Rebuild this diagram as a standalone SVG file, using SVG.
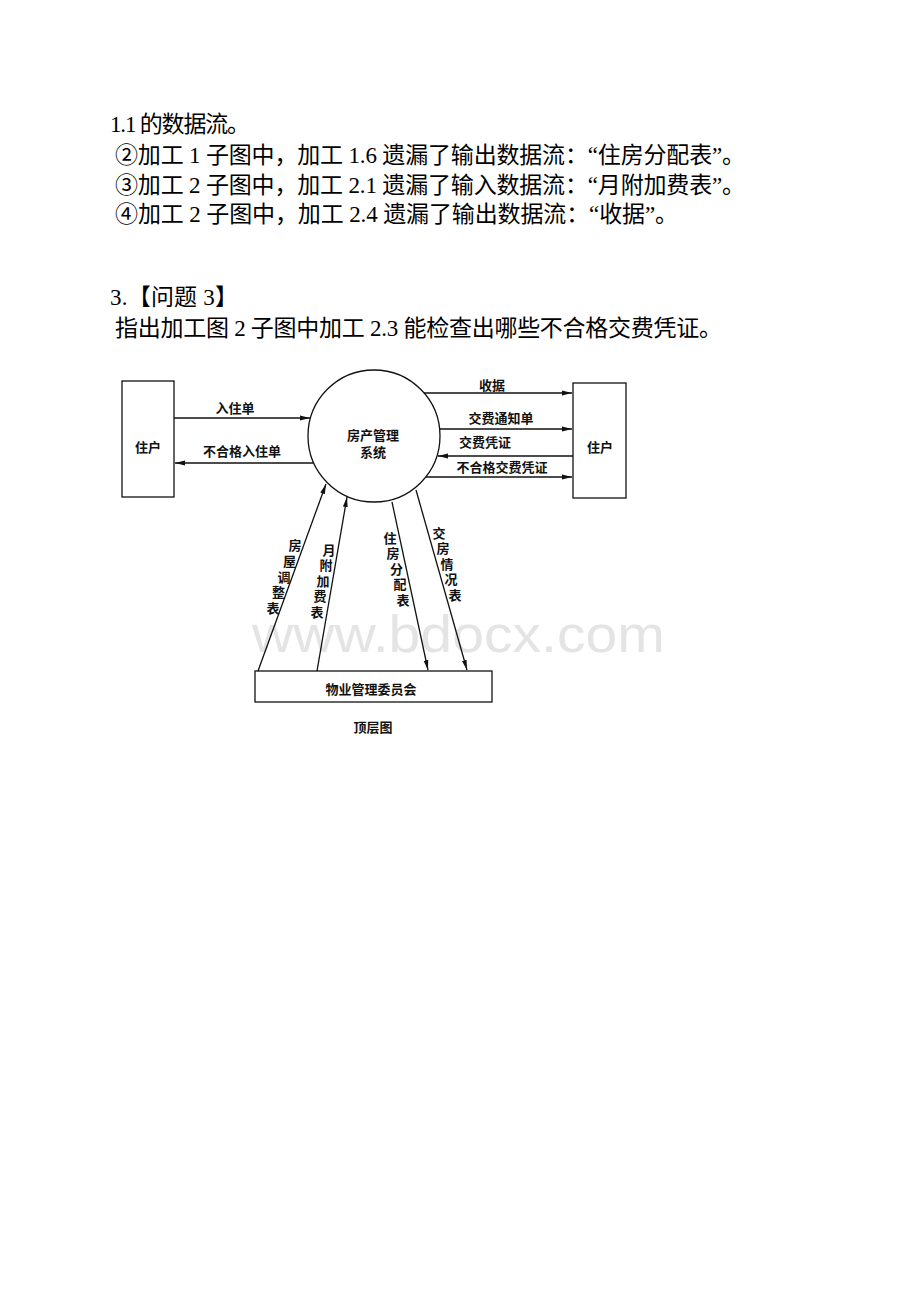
<svg xmlns="http://www.w3.org/2000/svg" width="920" height="1302" viewBox="0 0 920 1302">
<defs>
<marker id="ah" viewBox="0 0 10 6" refX="10" refY="3" markerWidth="10" markerHeight="6" markerUnits="userSpaceOnUse" orient="auto">
<path d="M0,0.6 L10,3 L0,5.4 Z" fill="#111"/>
</marker>
<style>
.t{font-family:"Liberation Serif","Noto Sans CJK SC",serif;font-size:23px;fill:#000}
.l{font-family:"Noto Sans CJK SC",sans-serif;font-size:13px;font-weight:bold;fill:#111;text-anchor:middle}
.v{font-family:"Noto Sans CJK SC",sans-serif;font-size:13px;font-weight:bold;fill:#111;writing-mode:vertical-rl;text-anchor:start}
.s{fill:none;stroke:#111;stroke-width:1.3}
.c{fill:none;stroke:#111;stroke-width:1.3;marker-end:url(#ah)}
.wm{font-family:"Liberation Sans",Arial,sans-serif;font-size:52px;fill:#e4e4e4}
</style>
</defs>
<rect width="920" height="1302" fill="#fff"/>
<g id="text">
<text class="t" x="110" y="132" textLength="140" lengthAdjust="spacing">1.1 的数据流。</text>
<text class="t" x="115" y="163" textLength="630" lengthAdjust="spacing">②加工 1 子图中，加工 1.6 遗漏了输出数据流：“住房分配表”。</text>
<text class="t" x="115" y="193" textLength="630" lengthAdjust="spacing">③加工 2 子图中，加工 2.1 遗漏了输入数据流：“月附加费表”。</text>
<text class="t" x="115" y="222" textLength="563" lengthAdjust="spacing">④加工 2 子图中，加工 2.4 遗漏了输出数据流：“收据”。</text>
<text class="t" x="110" y="305" textLength="128" lengthAdjust="spacing">3.【问题 3】</text>
<text class="t" x="115" y="336" textLength="607" lengthAdjust="spacing">指出加工图 2 子图中加工 2.3 能检查出哪些不合格交费凭证。</text>
</g>
<text class="wm" x="252" y="652" textLength="413" lengthAdjust="spacingAndGlyphs">www.bdocx.com</text>
<g id="connectors">
<line class="c" x1="174" y1="418" x2="310" y2="418"/>
<line class="c" x1="313" y1="463" x2="175" y2="463"/>
<line class="c" x1="424" y1="393" x2="572" y2="393"/>
<line class="c" x1="439" y1="429" x2="572" y2="429"/>
<line class="c" x1="573" y1="456" x2="438" y2="456"/>
<line class="c" x1="426" y1="477" x2="572" y2="477"/>
<line class="c" x1="258" y1="671" x2="326" y2="484"/>
<line class="c" x1="317" y1="671" x2="347" y2="497"/>
<line class="c" x1="392" y1="502" x2="428" y2="670"/>
<line class="c" x1="416" y1="490" x2="467" y2="670"/>
</g>
<g id="labels">
<text class="l" x="235" y="413">入住单</text>
<text class="l" x="242" y="456">不合格入住单</text>
<text class="l" x="492" y="390">收据</text>
<text class="l" x="501" y="423">交费通知单</text>
<text class="l" x="485" y="447">交费凭证</text>
<text class="l" x="502" y="472">不合格交费凭证</text>
<text class="v"><tspan x="295" y="538.5">房</tspan><tspan x="289.5" y="554.5">屋</tspan><tspan x="284" y="570.5">调</tspan><tspan x="278.5" y="585.5">整</tspan><tspan x="273" y="601.5">表</tspan></text>
<text class="v"><tspan x="329" y="543.5">月</tspan><tspan x="326" y="558.5">附</tspan><tspan x="323" y="574.5">加</tspan><tspan x="320" y="589.5">费</tspan><tspan x="317" y="605.5">表</tspan></text>
<text class="v"><tspan x="390" y="531.5">住</tspan><tspan x="393" y="546.5">房</tspan><tspan x="396.5" y="562.5">分</tspan><tspan x="400" y="577.5">配</tspan><tspan x="403" y="593.5">表</tspan></text>
<text class="v"><tspan x="439" y="526.5">交</tspan><tspan x="443" y="541.5">房</tspan><tspan x="447" y="557.5">情</tspan><tspan x="451" y="572.5">况</tspan><tspan x="455" y="588.5">表</tspan></text>
</g>
<g id="node-resident-left">
<rect class="s" x="122" y="381" width="52" height="116"/>
<text class="l" x="148" y="452">住户</text>
</g>
<g id="node-system">
<circle class="s" cx="374" cy="436" r="66"/>
<text class="l" x="373" y="440">房产管理</text>
<text class="l" x="373" y="457">系统</text>
</g>
<g id="node-resident-right">
<rect class="s" x="573" y="383" width="53" height="115"/>
<text class="l" x="600" y="452">住户</text>
</g>
<g id="node-committee">
<rect class="s" x="255" y="671" width="237" height="31"/>
<text class="l" x="371" y="694">物业管理委员会</text>
</g>
<g id="caption">
<text class="l" x="373" y="732">顶层图</text>
</g>
</svg>
